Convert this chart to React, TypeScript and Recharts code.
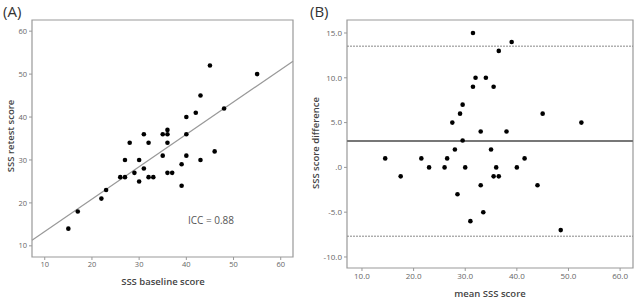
import React from "react";
import {
  ScatterChart,
  Scatter,
  XAxis,
  YAxis,
  ReferenceLine,
  ReferenceArea,
} from "recharts";

// Panel A: baseline vs retest
const baselineScores = [15, 17, 22, 23, 26, 27, 27, 28, 29, 30, 30, 31, 31, 32, 32, 33, 35, 35, 36, 36, 36, 36, 37, 39, 39, 40, 40, 40, 42, 43, 43, 45, 46, 48, 55];
const retestScores = [14, 18, 21, 23, 26, 26, 30, 34, 27, 30, 25, 36, 28, 34, 26, 26, 36, 31, 37, 36, 34, 27, 27, 29, 24, 40, 36, 31, 41, 45, 30, 52, 32, 42, 50];
const fitIntercept = 5.8;
const fitSlope = 0.754;
const ticksA = [10, 20, 30, 40, 50, 60];

// Panel B: Bland-Altman
const meanScores = [14.5, 17.5, 21.5, 23, 26, 26.5, 27.5, 28, 28.5, 29, 29.5, 29.5, 30, 31, 31.5, 31.5, 32, 33, 33, 33.5, 34, 35, 35.5, 35.5, 36, 36.5, 36.5, 38, 39, 40, 41.5, 44, 45, 48.5, 52.5];
const scoreDiffs = [1, -1, 1, 0, 0, 1, 5, 2, -3, 6, 7, 3, 0, -6, 15, 9, 10, 4, -2, -5, 10, 2, 9, -1, 0, 13, -1, 4, 14, 0, 1, -2, 6, -7, 5];
const meanDiff = 2.94;
const upperLoA = 13.53;
const lowerLoA = -7.68;
const ticksBX = [10, 20, 30, 40, 50, 60];
const ticksBY = [-10, -5, 0, 5, 10, 15];

const dataA = baselineScores.map((x, i) => ({ x, y: retestScores[i] }));
const dataB = meanScores.map((x, i) => ({ x, y: scoreDiffs[i] }));

const domAX: [number, number] = [7.3, 62.6];
const domAY: [number, number] = [7.4, 62.6];
const domBX: [number, number] = [7.1, 62.5];
const domBY: [number, number] = [-11.23, 16.45];

const FONT = "'Open Sans', 'Liberation Sans', sans-serif";
const tickStyle = { fontSize: 7.5, fill: "#666", fontFamily: FONT };
const tickStyleB = { fontSize: 8, fill: "#666", fontFamily: FONT };

const Dot = (props: any) => (
  <circle cx={props.cx} cy={props.cy} r={2.3} fill="#000" />
);

const fmtB = (v: number) => (v === 0 ? ".0" : v.toFixed(1));

export default function App() {
  return (
    <div style={{ position: "absolute", left: 0, top: 0, width: 640, height: 300, background: "#fff", fontFamily: FONT }}>
      <div style={{ position: "absolute", left: 0, top: 0 }}>
        <ScatterChart width={320} height={300} margin={{ top: 20, right: 27, left: 0, bottom: 0 }}>
          <XAxis
            type="number"
            dataKey="x"
            domain={domAX}
            ticks={ticksA}
            allowDataOverflow
            height={43}
            tickSize={3}
            tick={tickStyle}
            stroke="#999"
            axisLine={false}
          />
          <YAxis
            type="number"
            dataKey="y"
            domain={domAY}
            ticks={ticksA}
            allowDataOverflow
            width={32}
            tickSize={3}
            tick={tickStyle}
            stroke="#999"
            axisLine={false}
          />
          <ReferenceArea x1={domAX[0]} x2={domAX[1]} y1={domAY[0]} y2={domAY[1]} fill="none" stroke="#999" strokeWidth={1.2} />
          <ReferenceLine
            segment={[
              { x: domAX[0], y: fitIntercept + fitSlope * domAX[0] },
              { x: domAX[1], y: fitIntercept + fitSlope * domAX[1] },
            ]}
            stroke="#999"
            strokeWidth={1.2}
          />
          <Scatter data={dataA} shape={Dot} isAnimationActive={false} />
        </ScatterChart>
      </div>
      <div style={{ position: "absolute", left: 320, top: 0 }}>
        <ScatterChart width={320} height={300} margin={{ top: 20, right: 7, left: 0, bottom: 0 }}>
          <XAxis
            type="number"
            dataKey="x"
            domain={domBX}
            ticks={ticksBX}
            tickFormatter={fmtB}
            allowDataOverflow
            height={32}
            tickSize={3}
            tick={tickStyleB}
            stroke="#999"
            axisLine={false}
          />
          <YAxis
            type="number"
            dataKey="y"
            domain={domBY}
            ticks={ticksBY}
            tickFormatter={fmtB}
            allowDataOverflow
            width={27}
            tickSize={3}
            tick={tickStyleB}
            stroke="#999"
            axisLine={false}
          />
          <ReferenceArea x1={domBX[0]} x2={domBX[1]} y1={domBY[0]} y2={domBY[1]} fill="none" stroke="#999" strokeWidth={1.2} />
          <ReferenceLine y={upperLoA} stroke="#888" strokeDasharray="2 1" strokeWidth={1} />
          <ReferenceLine y={lowerLoA} stroke="#888" strokeDasharray="2 1" strokeWidth={1} />
          <ReferenceLine y={meanDiff} stroke="#777" strokeWidth={2} />
          <Scatter data={dataB} shape={Dot} isAnimationActive={false} />
        </ScatterChart>
      </div>

      <div style={{ position: "absolute", left: 3, top: 1, fontSize: 15, color: "#333" }}>(A)</div>
      <div style={{ position: "absolute", left: 310, top: 1, fontSize: 15, color: "#333" }}>(B)</div>
      <div style={{ position: "absolute", left: 163, top: 281, transform: "translate(-50%, -50%)", fontSize: 9.5, fontWeight: 600, color: "#444", whiteSpace: "nowrap" }}>SSS baseline score</div>
      <div style={{ position: "absolute", left: 10, top: 136, transform: "translate(-50%, -50%) rotate(-90deg)", fontSize: 9.5, fontWeight: 600, color: "#444", whiteSpace: "nowrap" }}>SSS retest score</div>
      <div style={{ position: "absolute", left: 211, top: 220, transform: "translate(-50%, -50%)", fontSize: 10, color: "#555", whiteSpace: "nowrap" }}>ICC = 0.88</div>
      <div style={{ position: "absolute", left: 315, top: 143, transform: "translate(-50%, -50%) rotate(-90deg)", fontSize: 9.5, fontWeight: 600, color: "#444", whiteSpace: "nowrap" }}>SSS score difference</div>
      <div style={{ position: "absolute", left: 490, top: 293, transform: "translate(-50%, -50%)", fontSize: 9.5, fontWeight: 600, color: "#444", whiteSpace: "nowrap" }}>mean SSS score</div>
    </div>
  );
}
